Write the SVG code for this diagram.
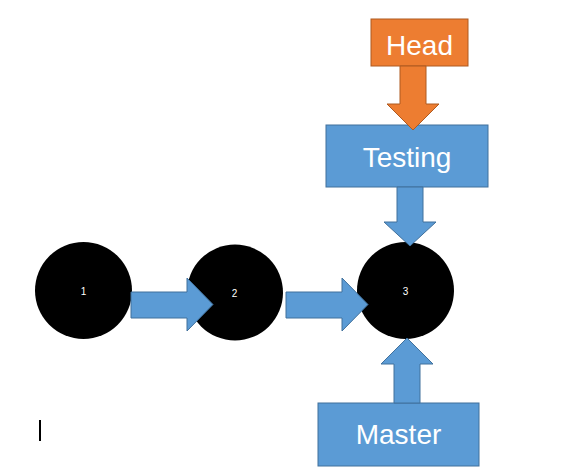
<svg xmlns="http://www.w3.org/2000/svg" width="567" height="469" viewBox="0 0 567 469">
<style>
.commit{fill:#000}
.clabel{fill:#fff;font-family:"Liberation Sans",Arial,sans-serif;font-size:10px;text-anchor:middle}
.box{fill:#5B9BD5;stroke:#41719C;stroke-width:1}
.head{fill:#ED7D31;stroke:#AE5A21;stroke-width:1}
.blabel{fill:#fff;font-family:"Liberation Sans",Arial,sans-serif;font-size:28px;text-anchor:middle}
.arrow{fill:#5B9BD5;stroke:#41719C;stroke-width:1}
.oarrow{fill:#ED7D31;stroke:#AE5A21;stroke-width:1}
</style>
<rect width="567" height="469" fill="#fff"/>
<g id="commit1"><circle class="commit" cx="83.5" cy="290.5" r="48.5"/><text class="clabel" x="83.5" y="294.5">1</text></g>
<g id="commit2"><circle class="commit" cx="235" cy="292.5" r="48"/><text class="clabel" x="234.5" y="297">2</text></g>
<g id="commit3"><circle class="commit" cx="405.5" cy="290.5" r="48.5"/><text class="clabel" x="405.5" y="294.5">3</text></g>
<g id="head"><rect class="head" x="371" y="19" width="97" height="47"/><text class="blabel" x="419.5" y="55">Head</text></g>
<g id="testing"><rect class="box" x="326" y="125" width="162" height="62"/><text class="blabel" x="407" y="167">Testing</text></g>
<g id="master"><rect class="box" x="318" y="403" width="161" height="63"/><text class="blabel" x="398.5" y="444">Master</text></g>
<g id="connectors">
<polygon class="arrow" points="131,292 187,292 187,278 213,304.5 187,331 187,318 131,318"/>
<polygon class="arrow" points="286,292 342,292 342,278 368,304.5 342,331 342,318 286,318"/>
<polygon class="oarrow" points="400,66 426,66 426,104 439,104 413,130 387,104 400,104"/>
<polygon class="arrow" points="397,187 423,187 423,222 436,222 410,246 384,222 397,222"/>
<polygon class="arrow" points="394,403 420,403 420,364 433,364 407,338 381,364 394,364"/>
</g>
<rect x="39" y="420" width="2" height="21" fill="#000"/>
</svg>
